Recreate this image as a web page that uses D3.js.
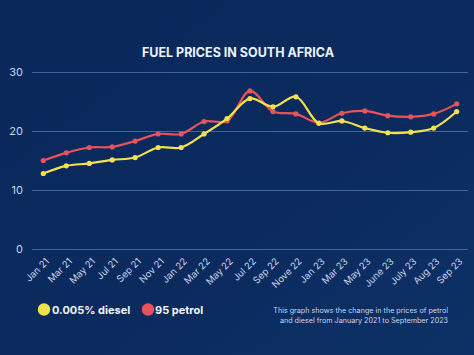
<!DOCTYPE html>
<html><head><meta charset="utf-8">
<script src="https://cdn.jsdelivr.net/npm/d3@7"></script>
<style>
html,body{margin:0;padding:0;background:#0b2a5c;}
svg{display:block;}
</style></head>
<body>
<svg id="c" width="474" height="355"></svg>
<script>
const categories = ["Jan 21","Mar 21","May 21","Jul 21","Sep 21","Nov 21","Jan 22","Mar 22","May 22","Jul 22","Sep 22","Nove 22","Jan 23","Mar 23","May 23","June 23","July 23","Aug 23","Sep 23"];
const diesel = [12.8,14.1,14.5,15.1,15.5,17.2,17.2,19.5,22.1,25.5,24.1,25.8,21.3,21.7,20.5,19.7,19.8,20.5,23.3];
const petrol = [15.0,16.3,17.2,17.3,18.3,19.5,19.5,21.6,21.7,26.8,23.3,22.9,21.4,23.0,23.4,22.6,22.4,22.9,24.6];
const yTicks = [0,10,20,30];
const seriesNames = ["0.005% diesel","95 petrol"];
const colors = ["#f4e24c","#e8525a"];

const svg = d3.select("#c");
const W = 474, H = 355;
const defs = svg.append("defs");
const g1 = defs.append("linearGradient").attr("id","bg").attr("x1","0").attr("y1","0").attr("x2","1").attr("y2","1");
g1.append("stop").attr("offset","0").attr("stop-color","#0a285a");
g1.append("stop").attr("offset","0.6").attr("stop-color","#0b2b5e");
g1.append("stop").attr("offset","1").attr("stop-color","#0d3166");
svg.append("rect").attr("width",W).attr("height",H).attr("fill","url(#bg)");

const x = d3.scalePoint().domain(categories).range([43.3,456.7]);
const y = d3.scaleLinear().domain([0,30]).range([249,72]);

svg.append("text").attr("x",238).attr("y",57).attr("text-anchor","middle")
  .attr("fill","#eef2fb").attr("font-family","Inter, 'Open Sans', sans-serif")
  .attr("font-weight","700").attr("font-size","12.5px").text("FUEL PRICES IN SOUTH AFRICA");

// grid
const yAxis = d3.axisLeft(y).tickValues(yTicks).tickSize(-(468-32)).tickPadding(9);
const ga = svg.append("g").attr("transform","translate(32,0)").call(yAxis);
ga.select(".domain").remove();
ga.selectAll(".tick line").attr("stroke","#3d64a3").attr("stroke-width",1);
ga.selectAll(".tick text").attr("fill","#c9d5ee").attr("font-family","Inter, 'Open Sans', sans-serif").attr("font-size","11px");

// x axis
const xAxis = d3.axisBottom(x).tickSize(0).tickPadding(0);
const gx = svg.append("g").attr("transform","translate(0,249)").call(xAxis);
gx.select(".domain").remove();
gx.selectAll(".tick text").attr("fill","#c9d5ee").attr("font-family","Inter, 'Open Sans', sans-serif")
  .attr("font-size","9.5px").attr("text-anchor","end").attr("dy","0")
  .attr("transform","translate(6,13) rotate(-45)");

const line = d3.line().x((d,i)=>x(categories[i])).y(d=>y(d)).curve(d3.curveCatmullRom.alpha(0.5));
[petrol, diesel].forEach((s,k)=>{
  const c = k===0 ? colors[1] : colors[0];
  svg.append("path").attr("d",line(s)).attr("fill","none").attr("stroke",c).attr("stroke-width",2.2);
  svg.append("g").selectAll("circle").data(s).join("circle")
    .attr("cx",(d,i)=>x(categories[i])).attr("cy",d=>y(d)).attr("r",2.6).attr("fill",c);
});

// legend
const leg = [{n:seriesNames[0],c:colors[0],cx:44,tx:52},{n:seriesNames[1],c:colors[1],cx:148,tx:155}];
leg.forEach(l=>{
  svg.append("circle").attr("cx",l.cx).attr("cy",309.5).attr("r",6.2).attr("fill",l.c);
  svg.append("text").attr("x",l.tx).attr("y",313.5).attr("fill","#f2f5fb")
    .attr("font-family","Inter, 'Open Sans', sans-serif").attr("font-weight","700").attr("font-size","11px").text(l.n);
});

const note = ["This graph shows the change in the prices of petrol","and diesel from January 2021 to September 2023"];
note.forEach((t,i)=>{
  svg.append("text").attr("x",448).attr("y",313+i*10).attr("text-anchor","end").attr("fill","#c9d5ee")
    .attr("font-family","Inter, 'Open Sans', sans-serif").attr("font-size","7.2px").text(t);
});
</script>
</body></html>
